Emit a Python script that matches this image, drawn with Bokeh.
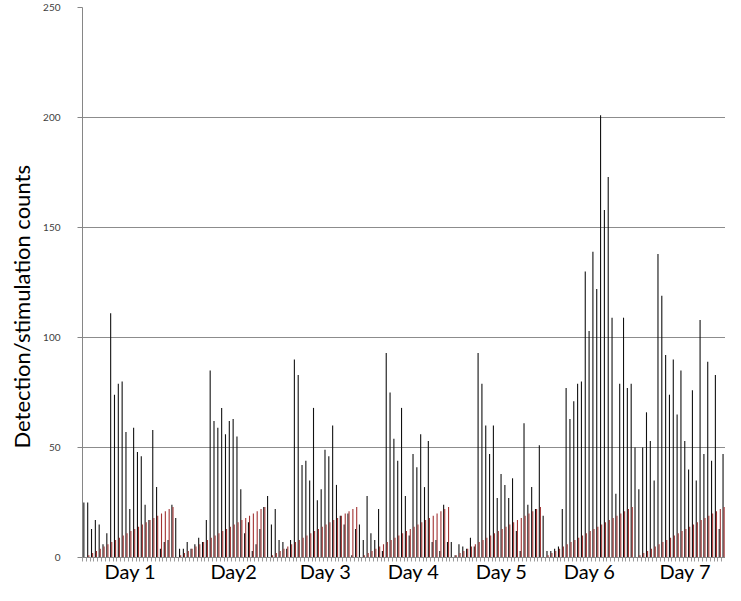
from bokeh.plotting import figure
from bokeh.models import ColumnDataSource, Range1d, FixedTicker, Title
from bokeh.transform import dodge
from bokeh.embed import file_html
from bokeh.resources import INLINE

days = ["Day 1", "Day2", "Day 3", "Day 4", "Day 5", "Day 6", "Day 7"]

# hourly detection counts (black) per day
detection_day1 = [25, 25, 13, 17, 15, 6, 11, 111, 74, 79, 80, 57, 22, 59, 48, 46, 24, 17, 58, 32, 4, 7, 8, 24]
detection_day2 = [18, 4, 4, 7, 4, 6, 9, 7, 17, 85, 62, 59, 68, 56, 62, 63, 55, 31, 11, 16, 3, 6, 13, 23]
detection_day3 = [28, 15, 22, 8, 7, 4, 8, 90, 83, 42, 44, 35, 68, 26, 31, 49, 46, 60, 33, 19, 15, 20, 1, 13]
detection_day4 = [15, 8, 28, 11, 8, 22, 3, 93, 75, 54, 44, 68, 28, 10, 47, 41, 56, 32, 53, 7, 8, 3, 24, 7]
detection_day5 = [7, 1, 6, 5, 4, 9, 5, 93, 79, 60, 47, 60, 27, 38, 33, 27, 36, 12, 3, 61, 24, 32, 22, 51]
detection_day6 = [19, 3, 3, 4, 5, 22, 77, 63, 71, 79, 80, 130, 103, 139, 122, 201, 158, 173, 109, 29, 79, 109, 77, 79]
detection_day7 = [50, 31, 50, 66, 53, 35, 138, 119, 92, 74, 90, 65, 85, 53, 40, 76, 35, 108, 47, 89, 44, 83, 13, 47]

# hourly stimulation counts (red) per day
stimulation_day1 = [0, 1, 2, 3, 4, 5, 6, 7, 8, 9, 10, 11, 12, 13, 14, 15, 16, 17, 18, 19, 20, 21, 22, 23]
stimulation_day2 = [0, 1, 2, 3, 4, 5, 6, 7, 8, 9, 10, 11, 12, 13, 14, 15, 16, 17, 18, 19, 20, 21, 22, 23]
stimulation_day3 = [0, 1, 2, 3, 4, 5, 6, 7, 8, 9, 10, 11, 12, 13, 14, 15, 16, 17, 18, 19, 20, 21, 22, 23]
stimulation_day4 = [0, 1, 2, 3, 4, 5, 6, 7, 8, 9, 10, 11, 12, 13, 14, 15, 16, 17, 18, 19, 20, 21, 22, 23]
stimulation_day5 = [0, 1, 2, 3, 4, 5, 6, 7, 8, 9, 10, 11, 12, 13, 14, 15, 16, 17, 18, 19, 20, 21, 22, 23]
stimulation_day6 = [0, 1, 2, 3, 4, 5, 6, 7, 8, 9, 10, 11, 12, 13, 14, 15, 16, 17, 18, 19, 20, 21, 22, 23]
stimulation_day7 = [0, 1, 2, 3, 4, 5, 6, 7, 8, 9, 10, 11, 12, 13, 14, 15, 16, 17, 18, 19, 20, 21, 22, 23]

# category index (within the whole week) on which each day label sits
day_label_rows = [12, 39, 63, 86, 109, 132, 157]
y_ticks = [0, 50, 100, 150, 200, 250]
y_title = "Detection/stimulation counts"

detection = (detection_day1 + detection_day2 + detection_day3 + detection_day4
             + detection_day5 + detection_day6 + detection_day7)
stimulation = (stimulation_day1 + stimulation_day2 + stimulation_day3 + stimulation_day4
               + stimulation_day5 + stimulation_day6 + stimulation_day7)
n = len(detection)

src = ColumnDataSource(dict(x=list(range(n)), det=detection, stim=stimulation))

p = figure(width=725, height=585, output_backend="svg", toolbar_location=None,
           x_range=Range1d(-0.5, n - 0.5), y_range=Range1d(0, 250),
           min_border_left=82, min_border_right=0, min_border_top=7, min_border_bottom=0)
p.outline_line_color = None
p.background_fill_color = "white"

bw = 1 / 3.5
p.vbar(x=dodge("x", -bw / 2, range=p.x_range), top="det", width=bw, bottom=0,
       source=src, fill_color="#111111", line_color=None)
p.vbar(x=dodge("x", bw / 2, range=p.x_range), top="stim", width=bw, bottom=0,
       source=src, fill_color="#a23232", line_color=None)

# x axis
p.xaxis.ticker = FixedTicker(ticks=day_label_rows,
                             minor_ticks=[i - 0.5 for i in range(n + 1)])
p.xaxis.major_label_overrides = {r: d for r, d in zip(day_label_rows, days)}
p.xaxis.major_tick_out = 0
p.xaxis.major_tick_in = 0
p.xaxis.minor_tick_out = 4
p.xaxis.minor_tick_in = 0
p.xaxis.minor_tick_line_color = "#9a9a9a"
p.xaxis.axis_line_color = "#868686"
p.xaxis.major_label_standoff = -3
p.xaxis.major_label_text_font = "Lato"
p.xaxis.major_label_text_font_size = "20px"
p.xaxis.major_label_text_color = "black"
p.xgrid.grid_line_color = None

# y axis
p.yaxis.ticker = FixedTicker(ticks=y_ticks)
p.yaxis.major_tick_out = 5
p.yaxis.major_tick_in = 0
p.yaxis.minor_tick_line_color = None
p.yaxis.major_tick_line_color = "#868686"
p.yaxis.axis_line_color = "#868686"
p.yaxis.major_label_standoff = 17
p.yaxis.major_label_text_font = "Lato"
p.yaxis.major_label_text_font_size = "10px"
p.yaxis.major_label_text_color = "#404040"
p.ygrid.grid_line_color = "#8c8c8c"

# y-axis title, starting a little above the 50 line as in the original
p.add_layout(Title(text=y_title, align="left", vertical_align="middle", offset=109, standoff=10,
                   text_font="Lato", text_font_size="22px", text_font_style="normal",
                   text_color="black"), "left")

open("out.html", "w").write(file_html(p, INLINE))
